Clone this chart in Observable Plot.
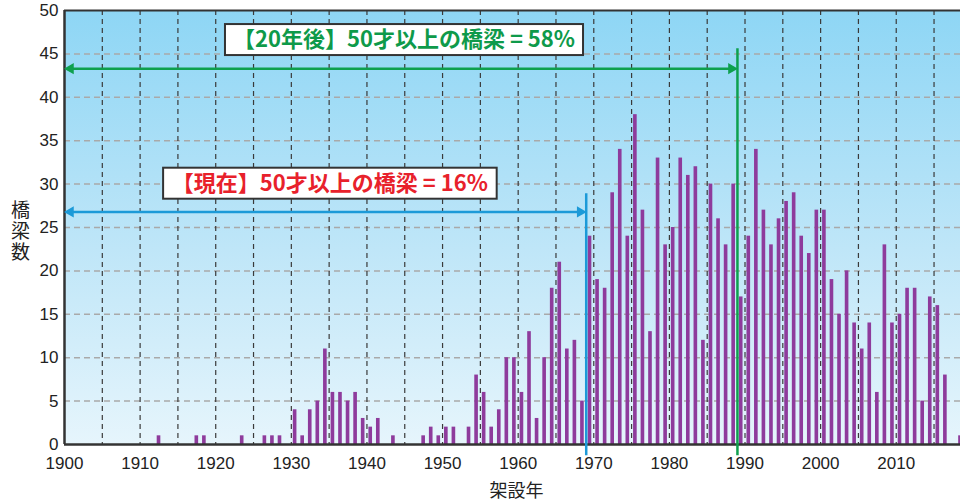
<!DOCTYPE html>
<html><head><meta charset="utf-8">
<script src="https://cdn.jsdelivr.net/npm/d3@7"></script>
<script src="https://cdn.jsdelivr.net/npm/@observablehq/plot@0.6"></script>
<style>html,body{margin:0;padding:0;background:#fff;overflow:hidden}</style>
</head><body><div id="chart"></div>
<script>
// ---- data ----
const years = [1912,1917,1918,1923,1926,1927,1928,1930,1931,1932,1933,1934,1935,1936,1937,1938,1939,1940,1941,1943,1947,1948,1949,1950,1951,1953,1954,1955,1956,1957,1958,1959,1960,1961,1962,1963,1964,1965,1966,1967,1968,1969,1970,1971,1972,1973,1974,1975,1976,1977,1978,1979,1980,1981,1982,1983,1984,1985,1986,1987,1988,1989,1990,1991,1992,1993,1994,1995,1996,1997,1998,1999,2000,2001,2002,2003,2004,2005,2006,2007,2008,2009,2010,2011,2012,2013,2014,2015,2016,2018];
const counts = [1,1,1,1,1,1,1,4,1,4,5,11,6,6,5,6,3,2,3,1,1,2,1,2,2,2,8,6,2,4,10,10,6,13,3,10,18,21,11,12,5,24,19,18,29,34,24,38,27,13,33,23,25,33,31,32,12,30,26,23,30,17,24,34,27,23,26,28,29,24,22,27,27,19,15,20,14,11,14,6,23,14,15,18,18,5,17,16,8,1];
const xTicks = [1900,1910,1920,1930,1940,1950,1960,1970,1980,1990,2000,2010];
const xGrid = [1905,1910,1915,1920,1925,1930,1935,1940,1945,1950,1955,1960,1965,1970,1975,1980,1985,1990,1995,2000,2005,2010,2015];
const yTicks = [0,5,10,15,20,25,30,35,40,45,50];
const yGrid = [5,10,15,20,25,30,35,40,45];

// annotations: [present, 20 years later]
const annoYear = [1969, 1989];
const annoArrowY = [26.8, 43.3];
const annoLineTop = [28.9, 45.6];
const annoLabels = ["【現在】50才以上の橋梁 = 16%", "【20年後】50才以上の橋梁 = 58%"];
const annoLabelX = [1935.1, 1944.9];
const annoLabelY = [30.05, 46.6];
const annoLineColor = ["#1c9ad8", "#0ea04e"];
const annoTextColor = ["#e8212b", "#0e9a4a"];

const yLabel = "橋梁数";
const xLabel = "架設年";

const bars = years.map((y, i) => ({year: y, count: counts[i]}));

const annoMarks = [];
annoYear.forEach((yr, i) => {
  const c = annoLineColor[i];
  annoMarks.push(
    Plot.ruleX([yr], {y1: -1.3, y2: annoLineTop[i], stroke: c, strokeWidth: 2.5}),
    Plot.ruleY([annoArrowY[i]], {x1: 1901, x2: yr - 1, stroke: c, strokeWidth: 2.5}),
    Plot.dot([{x: 1900, y: annoArrowY[i]}], {x: "x", y: "y", symbol: "triangle", r: 4.2, rotate: -90, dx: 6, fill: c, stroke: "none"}),
    Plot.dot([{x: yr, y: annoArrowY[i]}], {x: "x", y: "y", symbol: "triangle", r: 4.2, rotate: 90, dx: -6, fill: c, stroke: "none"}),
    Plot.text([annoLabels[i]], {x: annoLabelX[i], y: annoLabelY[i], text: d => d, fill: annoTextColor[i], fontSize: 22, fontWeight: "bold", className: "anno-box"})
  );
});

const chart = Plot.plot({
  width: 960,
  height: 500,
  marginTop: 10,
  marginBottom: 56,
  marginLeft: 64,
  marginRight: 0,
  style: {fontSize: "17px", fontFamily: "'Liberation Sans', 'Noto Sans CJK JP', sans-serif", color: "#222", background: "#fff"},
  x: {domain: [1900, 2018.5], ticks: xTicks, tickFormat: d => String(d), tickSize: 0, tickPadding: 12, label: null},
  y: {domain: [0, 50], ticks: yTicks, tickSize: 0, tickPadding: 6, label: null},
  marks: [
    Plot.frame({fill: "url(#bgGrad)"}),
    Plot.ruleY(yGrid, {stroke: "#a9a9a9", strokeWidth: 1.5, strokeDasharray: "6,4"}),
    Plot.ruleX(xGrid, {stroke: "#3a3a3a", strokeWidth: 1.2, strokeDasharray: "5,4"}),
    Plot.rectY(bars, {x1: d => d.year + 0.26, x2: d => d.year + 0.74, y: "count", fill: "#8e3b9c"}),
    Plot.ruleX([1900], {stroke: "#333", strokeWidth: 2.5}),
    Plot.ruleY([0], {stroke: "#333", strokeWidth: 2.5}),
    Plot.ruleY([50], {stroke: "#333", strokeWidth: 2}),
    ...annoMarks,
    Plot.text([yLabel], {text: d => d, frameAnchor: "left", dx: -44, dy: -2, textAnchor: "middle", fontSize: 19, fill: "#222", className: "ylab"}),
    Plot.text([xLabel], {text: d => d, frameAnchor: "bottom", dy: 52, dx: 4, textAnchor: "middle", fontSize: 18, fill: "#222"})
  ]
});

document.getElementById("chart").appendChild(chart);
const svg = d3.select(chart);
const grad = svg.insert("defs", ":first-child").append("linearGradient")
  .attr("id", "bgGrad").attr("x1", 0).attr("y1", 0).attr("x2", 0).attr("y2", 1);
grad.append("stop").attr("offset", 0).attr("stop-color", "#8ed6f5");
grad.append("stop").attr("offset", 0.55).attr("stop-color", "#bfe6f8");
grad.append("stop").attr("offset", 1).attr("stop-color", "#e6f5fc");

// vertical y label
svg.selectAll("g.ylab text")
  .style("writing-mode", "vertical-rl")
  .style("letter-spacing", "2px")
  .attr("dy", null)
  .attr("font-family", "'Noto Sans CJK JP', sans-serif");

svg.selectAll("g.anno-box").each(function() {
  const g = this;
  d3.select(g).selectAll("text").each(function() {
    const b = this.getBBox();
    d3.select(g).insert("rect", ":first-child")
      .attr("transform", this.getAttribute("transform"))
      .attr("x", b.x - 10).attr("y", b.y - 3)
      .attr("width", b.width + 20).attr("height", b.height + 6)
      .attr("fill", "#fff").attr("stroke", "#333").attr("stroke-width", 2);
  });
});
svg.selectAll("g.anno-box text").attr("font-family", "'Noto Sans CJK JP', sans-serif");
</script>
</body></html>
